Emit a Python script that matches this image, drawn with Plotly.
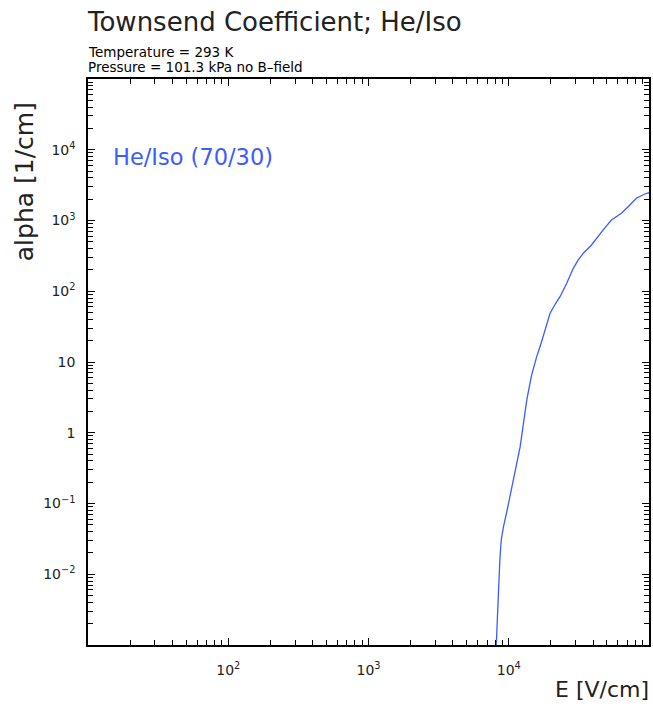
import plotly.graph_objects as go

# Townsend coefficient of He/Isobutane (70/30) at 293 K, 101.3 kPa
e_field = [8146, 8322, 8500, 8640, 8840, 8925, 9177, 9686, 10240, 10810, 11410,
           12060, 12730, 13440, 14500, 15820, 17010, 18340, 19710, 21600, 23200,
           25850, 28840, 31300, 33980, 38930, 42250, 47130, 53980, 63560, 70950,
           81280, 93280, 100000]
alpha = [0.001, 0.00296, 0.00785, 0.0159, 0.0305, 0.0359, 0.047, 0.0766, 0.132,
         0.215, 0.35, 0.635, 1.36, 2.9, 6.3, 11.9, 18.4, 31.6, 48.8, 67.6, 83.8,
         129, 211, 277, 344, 451, 561, 735, 1017, 1265, 1567, 2060, 2370, 2470]

x_major = [1e2, 1e3, 1e4]
x_labels = ["10<sup>2</sup>", "10<sup>3</sup>", "10<sup>4</sup>"]
y_major = [1e-2, 1e-1, 1, 10, 1e2, 1e3, 1e4]
y_labels = ["10<sup>−2</sup>", "10<sup>−1</sup>", "1", "10",
            "10<sup>2</sup>", "10<sup>3</sup>", "10<sup>4</sup>"]

title_text = "Townsend Coefficient; He/Iso"
info_lines = ["Temperature = 293 K", "Pressure = 101.3 kPa no B–field"]
series_name = "He/Iso (70/30)"
x_title = "E [V/cm]"
y_title = "alpha [1/cm]"

LINE_BLUE = "#3b5cff"
FONT = "DejaVu Sans"


def minor_vals(lo_exp, hi_exp):
    return [m * 10.0 ** k for k in range(lo_exp, hi_exp) for m in range(2, 10)]


W, H = 653, 707
L, R, T, B = 88, 2, 79, 62
pw, ph = W - L - R, H - T - B


def px(x):
    return (x - L) / pw


def py(y):
    return (H - B - y) / ph


fig = go.Figure()
fig.add_trace(go.Scatter(x=e_field, y=alpha, mode="lines",
                         line=dict(color=LINE_BLUE, width=1.3),
                         name=series_name, showlegend=False))

# framed log axes with inside ticks on all four sides
base = dict(
    type="log", showgrid=False, zeroline=False,
    showline=True, linecolor="black", linewidth=1.5, mirror="allticks",
    ticks="inside", ticklen=7, tickwidth=1.3, tickcolor="black",
    tickmode="array",
    tickfont=dict(family=FONT, size=14, color="#222222"),
)


def minor(vals):
    return dict(ticks="inside", ticklen=5, tickwidth=1.3, tickcolor="black",
                tickmode="array", tickvals=vals, showgrid=False)


fig.update_layout(
    xaxis=dict(**base, range=[1, 5], tickvals=x_major, ticktext=x_labels,
               ticklabelstandoff=11, minor=minor(minor_vals(1, 5))),
    yaxis=dict(**base, range=[-3, 5], tickvals=y_major, ticktext=y_labels,
               ticklabelstandoff=8, minor=minor(minor_vals(-3, 5))),
)

annotations = [
    dict(text=title_text, x=px(85), y=py(22), xanchor="left", yanchor="middle",
         font=dict(family=FONT, size=26, color="#222222")),
    dict(text=info_lines[0], x=px(86), y=py(52), xanchor="left", yanchor="middle",
         font=dict(family=FONT, size=13.5, color="black")),
    dict(text=info_lines[1], x=px(86), y=py(67), xanchor="left", yanchor="middle",
         font=dict(family=FONT, size=13.5, color="black")),
    dict(text=series_name, x=px(111), y=py(157), xanchor="left", yanchor="middle",
         font=dict(family=FONT, size=22.5, color=LINE_BLUE)),
    dict(text=x_title, x=px(653), y=py(689), xanchor="right", yanchor="middle",
         font=dict(family=FONT, size=22, color="#222222")),
    dict(text=y_title, x=px(25), y=py(182), xanchor="center", yanchor="middle",
         textangle=-90, font=dict(family=FONT, size=25, color="#222222")),
]
for a in annotations:
    a.update(xref="paper", yref="paper", showarrow=False)

fig.update_layout(
    width=W, height=H, autosize=False,
    margin=dict(l=L, r=R, t=T, b=B, pad=0),
    paper_bgcolor="white", plot_bgcolor="white",
    annotations=annotations,
)

fig.write_html("out.html", config={"displayModeBar": False})
